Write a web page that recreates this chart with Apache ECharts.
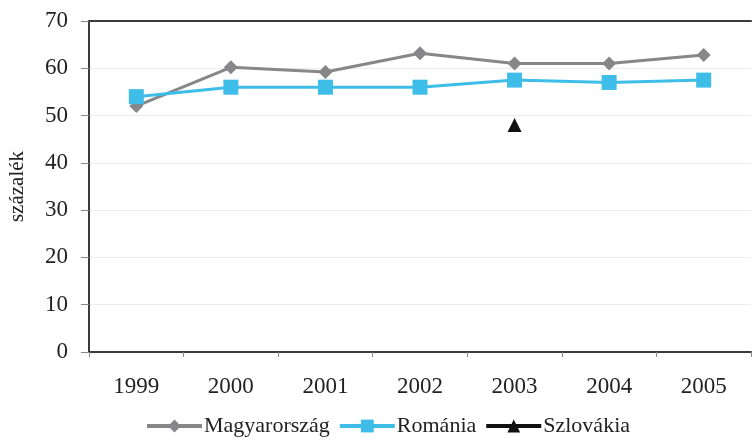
<!DOCTYPE html>
<html><head><meta charset="utf-8">
<script src="https://cdn.jsdelivr.net/npm/echarts@6/dist/echarts.min.js"></script>
<style>html,body{margin:0;padding:0;background:#fff}#c{width:756px;height:443px}</style>
</head><body><div id="c"></div>
<script>
const years = ['1999','2000','2001','2002','2003','2004','2005'];
const magyarorszag = [52, 60.2, 59.2, 63.2, 61, 61, 62.8];
const romania = [54, 56, 56, 56, 57.5, 57, 57.5];
const szlovakia = [null, null, null, null, 48, null, null];
const yTicks = {min: 0, max: 70, interval: 10};
const font = 'Liberation Serif';
const chart = echarts.init(document.getElementById('c'));
chart.setOption({
  animation: false,
  textStyle: {fontFamily: font},
  grid: {left: 89, top: 21, right: 5, bottom: 91, outerBoundsMode: 'none', containLabel: false},
  legend: {
    left: 140, bottom: 1, itemWidth: 55, itemHeight: 16, itemGap: 8,
    textStyle: {fontFamily: font, fontSize: 22, color: '#222', padding: [0,0,0,-3]},
    lineStyle: {width: 4},
    data: ['Magyarország','Románia','Szlovákia']
  },
  xAxis: [{
    type: 'category', data: years, boundaryGap: true,
    axisLine: {lineStyle: {color: '#3a3a3a', width: 2}},
    axisTick: {show: true, length: 5, lineStyle: {color: '#888'}},
    axisLabel: {fontFamily: font, fontSize: 23, color: '#222', margin: 23}
  }, {
    type: 'category', data: years, position: 'top',
    axisLine: {lineStyle: {color: '#3a3a3a', width: 2}},
    axisTick: {show: false}, axisLabel: {show: false}
  }],
  yAxis: {
    type: 'value', min: yTicks.min, max: yTicks.max, interval: yTicks.interval,
    name: 'százalék', nameLocation: 'middle', nameGap: 61, nameRotate: 90,
    nameTextStyle: {fontFamily: font, fontSize: 21, color: '#222'},
    axisLine: {show: true, lineStyle: {color: '#3a3a3a', width: 2}},
    axisTick: {show: true, length: 8, lineStyle: {color: '#888'}},
    axisLabel: {fontFamily: font, fontSize: 23, color: '#222', margin: 21},
    splitLine: {lineStyle: {color: '#ececec', width: 1}}
  },
  series: [{
    name: 'Magyarország', type: 'line', data: magyarorszag,
    symbol: 'diamond', symbolSize: 14, showAllSymbol: true,
    lineStyle: {color: '#87878a', width: 3}, itemStyle: {color: '#87878a'}
  }, {
    name: 'Románia', type: 'line', data: romania,
    symbol: 'rect', symbolSize: 15,
    lineStyle: {color: '#3fbde9', width: 3}, itemStyle: {color: '#3fbde9'}
  }, {
    name: 'Szlovákia', type: 'line', data: szlovakia,
    symbol: 'triangle', symbolSize: 14,
    lineStyle: {color: '#111', width: 3}, itemStyle: {color: '#111'}
  }]
});
</script></body></html>
